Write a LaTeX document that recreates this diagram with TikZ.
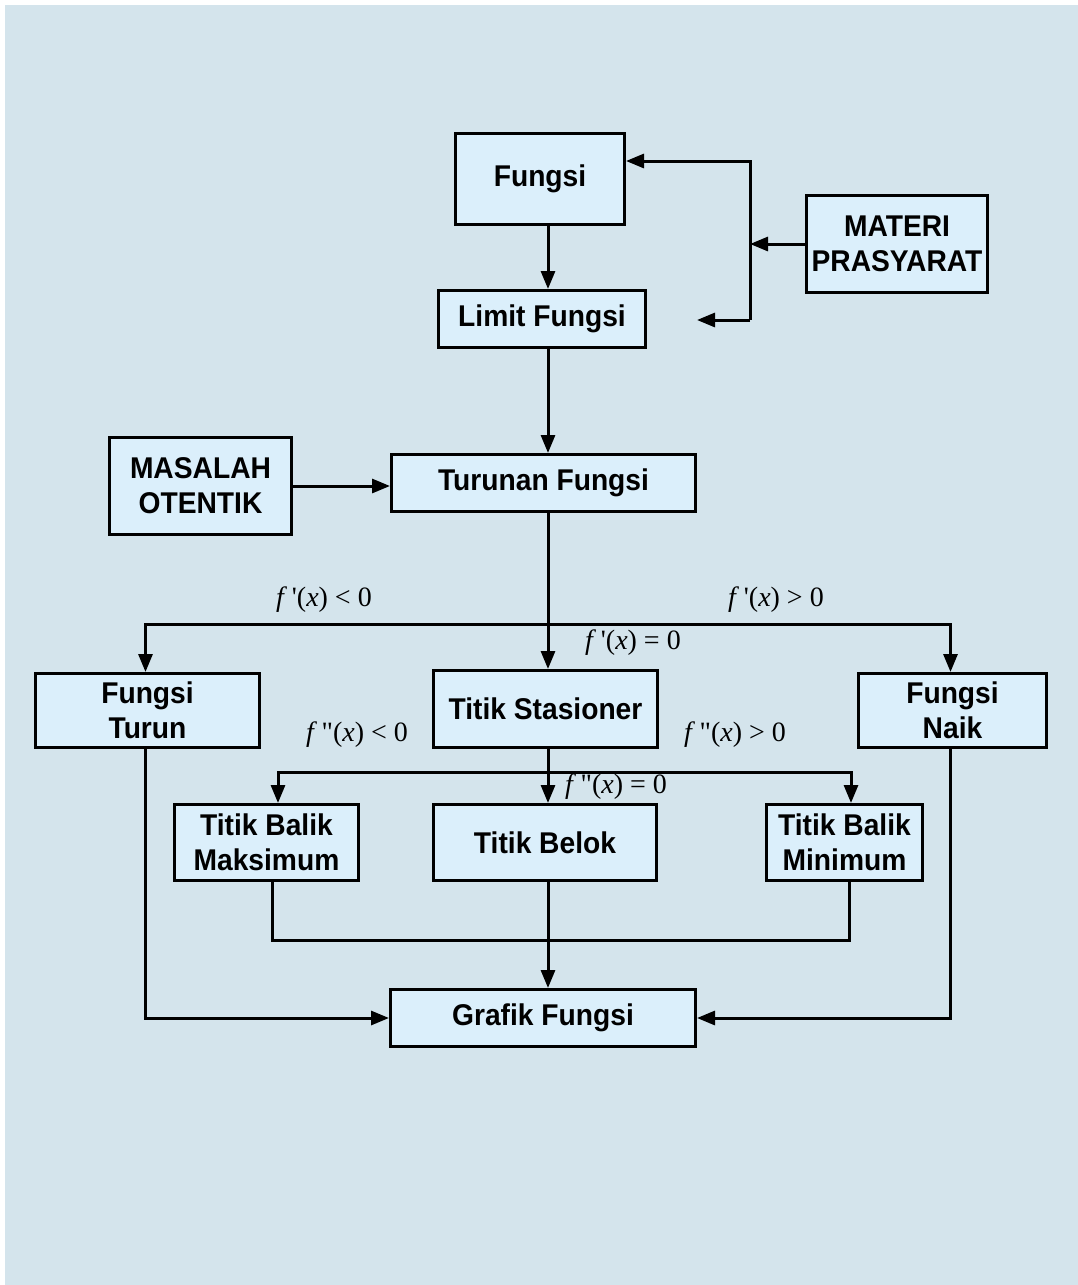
\documentclass[tikz,border=0pt]{standalone}
\usepackage{fontspec}
\setmainfont{Liberation Serif}
\setsansfont{Liberation Sans}[FakeStretch=0.94]
\usetikzlibrary{arrows.meta,calc}
\definecolor{bgpanel}{HTML}{D4E4EC}
\definecolor{boxfill}{HTML}{DBEFFB}
\tikzset{
  box/.style={rectangle,fill=boxfill,draw=black,line width=3pt,
    align=center,inner sep=0pt,
    font=\sffamily\bfseries\fontsize{30}{35}\selectfont},
  % conditions on the derivatives
  cond/.style={font=\fontsize{28}{32}\selectfont,inner sep=0pt},
  arr/.style={-{Triangle[length=18pt,width=14pt]},line width=3pt},
  link/.style={line width=3pt}
}
\newcommand{\fp}{\textit{f}\,\textquotesingle(\textit{x})}
\newcommand{\fpp}{\textit{f}\,\textquotedbl(\textit{x})}

\begin{document}
\begin{tikzpicture}[x=1pt,y=-1pt]
\useasboundingbox (0,0) rectangle (1077,1285);
\fill[white] (0,0) rectangle (1077,1285);
\fill[bgpanel] (5,5) rectangle (1095,1305);
% ---------- boxes ----------
\node[box,minimum width=169pt,minimum height=91pt] (fungsi) at (540,179) {Fungsi};
\node[box,minimum width=181pt,minimum height=97pt] (materi) at (897,244) {MATERI\\PRASYARAT};
\node[box,minimum width=207pt,minimum height=57pt] (limit) at (542,319) {Limit Fungsi};
\node[box,minimum width=182pt,minimum height=97pt] (masalah) at (200.5,486) {MASALAH\\OTENTIK};
\node[box,minimum width=304pt,minimum height=57pt] (turunan) at (543.5,483) {Turunan Fungsi};
\node[box,minimum width=224pt,minimum height=74pt] (turun) at (147.5,710.5) {Fungsi\\Turun};
\node[box,minimum width=224pt,minimum height=77pt] (stasioner) at (545.5,709) {Titik Stasioner};
\node[box,minimum width=188pt,minimum height=74pt] (naik) at (952.5,710.5) {Fungsi\\Naik};
\node[box,minimum width=184pt,minimum height=76pt] (maks) at (266.5,842.5) {Titik Balik\\Maksimum};
\node[box,minimum width=223pt,minimum height=76pt] (belok) at (545,842.5) {Titik Belok};
\node[box,minimum width=156pt,minimum height=76pt] (minim) at (844.5,842.5) {Titik Balik\\Minimum};
\node[box,minimum width=305pt,minimum height=57pt] (grafik) at (543,1018) {Grafik Fungsi};
% ---------- conditions ----------
\node[cond] (lt0) at (324,600) {\fp\ < 0};
\node[cond] (gt0) at (776,600) {\fp\ > 0};
\node[cond] (eq0) at (633,643) {\fp\ = 0};
\node[cond] (lt2) at (357,735) {\fpp\ < 0};
\node[cond] (gt2) at (735,735) {\fpp\ > 0};
\node[cond] (eq2) at (616,787) {\fpp\ = 0};
% ---------- connectors ----------
\coordinate (spine) at (548,0);
\coordinate (busT) at (750,161);
\coordinate (busB) at (750,320);
\coordinate (limitEnd) at (697,320);
\coordinate (split1) at (548,624);
\coordinate (split2) at (548,772);
\coordinate (join) at (548,940);
\draw[arr] (materi.west) -- (materi.west -| busT);
\draw[arr] (busB) -- (busT) -- (busT -| fungsi.east);
\draw[arr] (busB) -- (limitEnd);
\draw[arr] (fungsi.south -| spine) -- (limit.north -| spine);
\draw[arr] (limit.south -| spine) -- (turunan.north -| spine);
\draw[arr] (masalah.east) -- (masalah.east -| turunan.west);
\draw[link] (turunan.south -| spine) -- (split1);
\draw[arr] (split1) -- (stasioner.north -| spine);
\draw[arr] (split1) -| ([xshift=-2pt]turun.north);
\draw[arr] (split1) -| ([xshift=-2pt]naik.north);
\draw[link] (stasioner.south -| spine) -- (split2);
\draw[arr] (split2) -- (belok.north -| spine);
\draw[arr] (split2) -| ([xshift=11.5pt]maks.north);
\draw[arr] (split2) -| ([xshift=6.5pt]minim.north);
\draw[link] ([xshift=5.5pt]maks.south) |- (join) -| ([xshift=4.5pt]minim.south);
\draw[arr] (belok.south -| spine) -- (grafik.north -| spine);
\draw[arr] ([xshift=-2.5pt]turun.south) |- (grafik.west);
\draw[arr] ([xshift=-2.5pt]naik.south) |- (grafik.east);
\end{tikzpicture}
\end{document}
